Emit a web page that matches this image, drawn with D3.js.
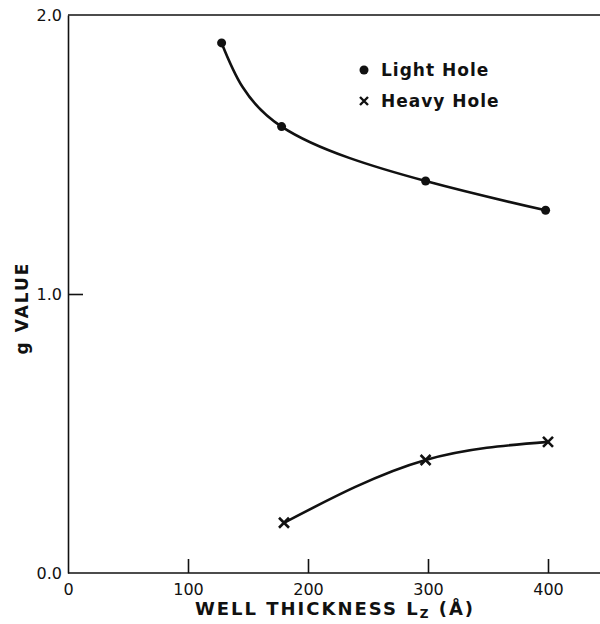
<!DOCTYPE html>
<html><head><meta charset="utf-8">
<script src="https://cdn.jsdelivr.net/npm/d3@7"></script>
<style>body{margin:0;background:#fff}</style>
</head><body>
<svg id="c" width="600" height="624"></svg>
<script>
const lightX = [128, 178, 298, 398];
const lightY = [1.90, 1.60, 1.405, 1.30];
const heavyX = [180, 298, 400];
const heavyY = [0.18, 0.405, 0.47];
const xTicks = [0, 100, 200, 300, 400];
const yTicks = [0.0, 1.0, 2.0];
const legendLabels = ["Light Hole", "Heavy Hole"];

const svg = d3.select("#c");
const x = d3.scaleLinear().domain([0, 100]).range([68, 188]);
const y = d3.scaleLinear().domain([0, 2]).range([573, 15]);
const font = "'DejaVu Sans', sans-serif";

// frame: top border
svg.append("line").attr("x1", 68).attr("x2", 600).attr("y1", y(2)).attr("y2", y(2))
  .attr("stroke", "#111").attr("stroke-width", 1.6);

const xAxis = svg.append("g").attr("transform", `translate(0,${y(0)})`)
  .call(d3.axisBottom(x).tickValues(xTicks).tickSizeInner(-14).tickSizeOuter(0).tickPadding(8).tickFormat(d3.format("d")));
xAxis.select(".domain").attr("d", `M68,0H600`).attr("stroke", "#111").attr("stroke-width", 1.6);
xAxis.selectAll(".tick line").attr("stroke", "#111").attr("stroke-width", 1.6);
xAxis.selectAll(".tick text").attr("font-family", font).attr("font-size", 16).attr("fill", "#111").attr("dy", "0.85em");
xAxis.selectAll(".tick").filter(d => d === 0).select("line").remove();

const yAxis = svg.append("g").attr("transform", `translate(68,0)`)
  .call(d3.axisLeft(y).tickValues(yTicks).tickSizeInner(-15).tickSizeOuter(0).tickPadding(6).tickFormat(d3.format(".1f")));
yAxis.select(".domain").attr("stroke", "#111").attr("stroke-width", 1.6);
yAxis.selectAll(".tick line").attr("stroke", "#111").attr("stroke-width", 1.6);
yAxis.selectAll(".tick").filter(d => d !== 1).select("line").remove();
yAxis.selectAll(".tick text").attr("font-family", font).attr("font-size", 16).attr("fill", "#111");

// curves
const lightData = lightX.map((d, i) => [d, lightY[i]]);
const heavyData = heavyX.map((d, i) => [d, heavyY[i]]);
const lineL = d3.line().x(d => x(d[0])).y(d => y(d[1])).curve(d3.curveNatural);
const lineH = d3.line().x(d => x(d[0])).y(d => y(d[1])).curve(d3.curveMonotoneX);
svg.append("path").attr("d", lineL(lightData)).attr("fill", "none").attr("stroke", "#111").attr("stroke-width", 2.6);
svg.append("path").attr("d", lineH(heavyData)).attr("fill", "none").attr("stroke", "#111").attr("stroke-width", 2.6);

svg.selectAll(".dot").data(lightData).join("circle")
  .attr("cx", d => x(d[0])).attr("cy", d => y(d[1])).attr("r", 4.5).attr("fill", "#111");

const cs = 5;
const crossPath = (cx, cy) => `M${cx-cs},${cy-cs}L${cx+cs},${cy+cs}M${cx-cs},${cy+cs}L${cx+cs},${cy-cs}`;
svg.selectAll(".cross").data(heavyData).join("path")
  .attr("d", d => crossPath(x(d[0]), y(d[1]))).attr("stroke", "#111").attr("stroke-width", 2.6);

// legend
svg.append("circle").attr("cx", 364).attr("cy", 70).attr("r", 4.5).attr("fill", "#111");
svg.append("path").attr("d", `M${364-4},${101-4}L${364+4},${101+4}M${364-4},${101+4}L${364+4},${101-4}`)
  .attr("stroke", "#111").attr("stroke-width", 2.4);
svg.selectAll(".leg").data(legendLabels).join("text")
  .attr("x", 381).attr("y", (d, i) => 76 + i * 31)
  .attr("font-family", font).attr("font-weight", "bold").attr("font-size", 17)
  .attr("letter-spacing", 1).attr("fill", "#111").text(d => d);

// axis titles
const xt = svg.append("text").attr("x", 335).attr("y", 615).attr("text-anchor", "middle")
  .attr("font-family", font).attr("font-weight", "bold").attr("font-size", 18)
  .attr("letter-spacing", 2).attr("fill", "#111");
xt.append("tspan").text("WELL THICKNESS L");
xt.append("tspan").attr("font-size", 12).attr("dy", 3).text("Z");
xt.append("tspan").attr("dy", -3).text(" (Å)");

svg.append("text").attr("transform", "translate(28,308) rotate(-90)").attr("text-anchor", "middle")
  .attr("font-family", font).attr("font-weight", "bold").attr("font-size", 17)
  .attr("letter-spacing", 2).attr("fill", "#111").text("g VALUE");
</script>
</body></html>
